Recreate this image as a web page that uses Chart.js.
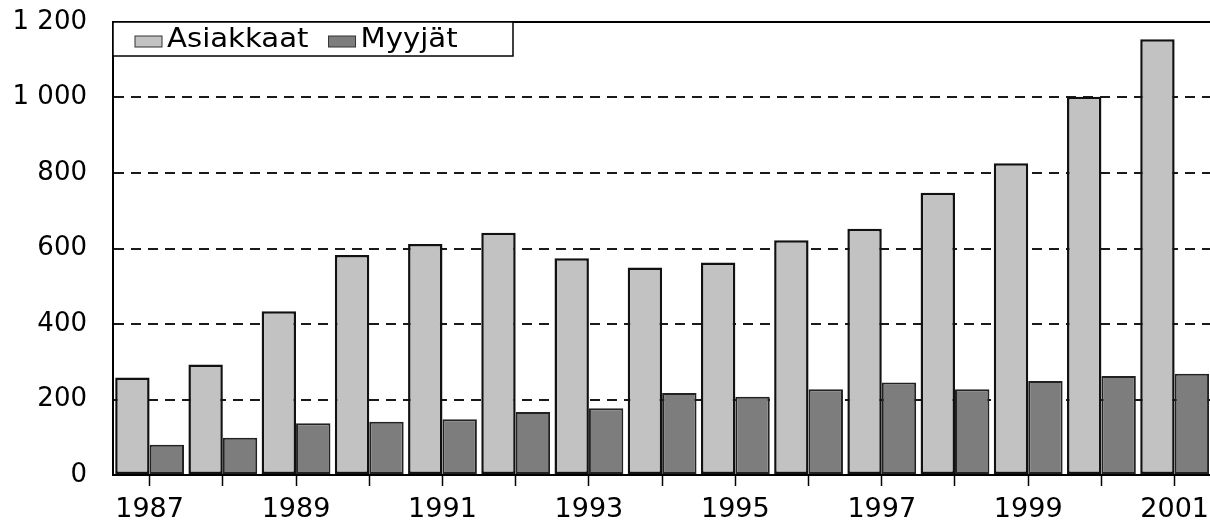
<!DOCTYPE html>
<html>
<head>
<meta charset="utf-8">
<script src="https://cdn.jsdelivr.net/npm/chart.js@4/dist/chart.umd.min.js"></script>
<style>
    html, body { margin: 0; padding: 0; background: #fff; overflow: hidden; }
    #wrap { width: 1217px; height: 520px; }
</style>
</head>
<body>
<div id="wrap"><canvas id="chart"></canvas></div>
<script>
/* Asiakkaat / Myyjät 1987–2001 */
const years = ['1987', '1988', '1989', '1990', '1991', '1992', '1993', '1994',
    '1995', '1996', '1997', '1998', '1999', '2000', '2001'];
const asiakkaat = [258, 293, 434, 583, 612, 642, 574, 550, 563, 622, 652, 748, 826, 1002, 1154];
const myyjat = [80, 99, 137, 141, 148, 167, 177, 217, 207, 227, 245, 227, 249, 262, 268];
const yTicks = [0, 200, 400, 600, 800, 1000, 1200];

const COLORS = {
    light: '#c2c2c2',
    dark: '#7d7d7d',
    edge: '#111111',
    grid: '#1a1a1a',
    text: '#000000',
};

const FONT = "'DejaVu Sans', sans-serif";

// thousands separator as a space: 1 200
const fmt = (v) => String(v).replace(/\B(?=(\d{3})+(?!\d))/g, ' ');

// legend box sitting in the top-left of the plot + solid top frame line
const insideLegend = {
    id: 'insideLegend',
    afterDraw(chart) {
        const { ctx, chartArea } = chart;
        ctx.save();
        ctx.strokeStyle = '#000';
        ctx.lineWidth = 2;
        ctx.beginPath();
        ctx.moveTo(chartArea.left, chartArea.top);
        ctx.lineTo(chartArea.right, chartArea.top);
        ctx.stroke();

        const x0 = chartArea.left, y0 = chartArea.top;
        ctx.fillStyle = '#fff';
        ctx.fillRect(x0, y0, 400, 34);
        ctx.lineWidth = 1.5;
        ctx.strokeRect(x0, y0, 400, 34);

        ctx.font = `27px ${FONT}`;
        ctx.textBaseline = 'middle';
        let x = x0 + 22;
        chart.data.datasets.forEach((ds) => {
            ctx.fillStyle = ds.backgroundColor;
            ctx.fillRect(x, y0 + 14, 27, 11);
            ctx.lineWidth = 1;
            ctx.strokeStyle = '#333';
            ctx.strokeRect(x, y0 + 14, 27, 11);
            x += 32;
            ctx.save();
            ctx.translate(x, y0 + 18);
            ctx.scale(1.08, 1);
            ctx.fillStyle = COLORS.text;
            ctx.fillText(ds.label, 0, 0);
            const w = ctx.measureText(ds.label).width * 1.08;
            ctx.restore();
            x += w + 20;
        });
        ctx.restore();
    },
};

new Chart(document.getElementById('chart'), {
    type: 'bar',
    data: {
        labels: years,
        datasets: [
            {
                label: 'Asiakkaat',
                data: asiakkaat,
                backgroundColor: COLORS.light,
                borderColor: COLORS.edge,
                borderWidth: 2.5,
                borderSkipped: false,
                barPercentage: 1.0,
                categoryPercentage: 0.94,
            },
            {
                label: 'Myyjät',
                data: myyjat,
                backgroundColor: COLORS.dark,
                borderColor: '#222',
                borderWidth: 2,
                borderSkipped: false,
                barPercentage: 1.0,
                categoryPercentage: 0.94,
            },
        ],
    },
    options: {
        responsive: true,
        maintainAspectRatio: false,
        animation: false,
        layout: { padding: { left: 8, top: 22, right: 0, bottom: 0 } },
        plugins: {
            legend: { display: false },
            tooltip: { enabled: false },
        },
        scales: {
            x: {
                afterFit: (scale) => { scale.height = 45; },
                grid: {
                    offset: false,
                    drawOnChartArea: false,
                    drawTicks: true,
                    tickLength: 11,
                    tickColor: '#000',
                    tickWidth: 1.5,
                },
                border: { display: true, color: '#000', width: 2 },
                ticks: {
                    autoSkip: false,
                    maxRotation: 0,
                    padding: 8,
                    color: COLORS.text,
                    font: { family: FONT, size: 27 },
                    callback: (v, i) => (i % 2 === 0 ? years[i] : ''),
                },
            },
            y: {
                min: 0,
                max: 1200,
                afterFit: (scale) => {
                    scale.width = 105;
                    scale.paddingTop = 0;
                    scale.paddingBottom = 0;
                },
                afterBuildTicks: (scale) => {
                    scale.ticks = yTicks.map((v) => ({ value: v }));
                },
                grid: {
                    drawTicks: false,
                    color: COLORS.grid,
                    lineWidth: 2,
                },
                border: {
                    display: true,
                    color: '#000',
                    width: 2,
                    dash: (ctx) => (ctx.tick && (ctx.tick.value === 1200 || ctx.tick.value === 0) ? [] : [10, 7]),
                },
                ticks: {
                    padding: 26,
                    color: COLORS.text,
                    font: { family: FONT, size: 26 },
                    callback: (v) => fmt(v),
                },
            },
        },
    },
    plugins: [insideLegend],
});
</script>
</body>
</html>
